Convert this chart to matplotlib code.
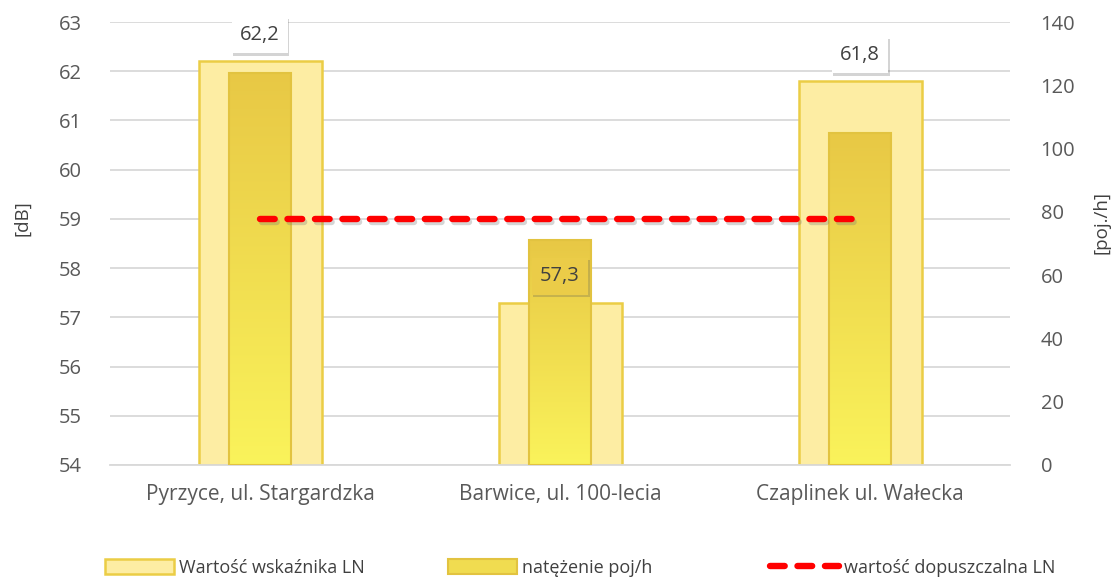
import matplotlib
matplotlib.use('Agg')
import matplotlib.pyplot as plt
import matplotlib.patheffects as pe
from matplotlib.patches import Patch
from matplotlib.lines import Line2D
from matplotlib.colors import LinearSegmentedColormap
import numpy as np

# data
locations = ['Pyrzyce, ul. Stargardzka', 'Barwice, ul. 100-lecia', 'Czaplinek ul. Wałecka']
ln_values = [62.2, 57.3, 61.8]          # [dB], left axis
traffic = [124, 71, 105]                # [poj./h], right axis
ln_limit = [59, 59, 59]                 # wartość dopuszczalna
ln_labels = ['62,2', '57,3', '61,8']
legend_labels = ['Wartość wskaźnika LN', 'natężenie poj/h', 'wartość dopuszczalna LN']

plt.rcParams['font.family'] = ['Open Sans', 'DejaVu Sans']

grey = '#595959'
outer_fc = '#fdeda3'
outer_ec = '#ebcd45'
grad_top = '#e8c845'
grad_bot = '#faf35b'

fig = plt.figure(figsize=(11.2, 5.78), dpi=100)
ax1 = fig.add_axes([110 / 1120, 113 / 578, 900 / 1120, 443 / 578])
ax2 = ax1.twinx()

x = np.arange(len(locations))

# outer bars (LN indicator)
ax1.bar(x, [v - 54 for v in ln_values], bottom=54, width=0.41,
        color=outer_fc, edgecolor=outer_ec, linewidth=1.8, zorder=2)

ax1.set_ylim(54, 63)
ax1.set_xlim(-0.5, 2.5)
ax1.set_yticks(range(54, 64))
ax1.grid(axis='y', color='#d9d9d9', linewidth=1.3, zorder=0)
ax1.set_axisbelow(True)

# inner bars (traffic) with vertical gradient
inner = ax2.bar(x, traffic, width=0.207, color='none',
                edgecolor='#e2c340', linewidth=1.5, zorder=3)
cmap = LinearSegmentedColormap.from_list('g', [grad_bot, grad_top])
grad = np.linspace(0, 1, 256).reshape(-1, 1)
for rect in inner:
    x0, w, h = rect.get_x(), rect.get_width(), rect.get_height()
    im = ax2.imshow(grad, cmap=cmap, origin='lower', aspect='auto',
                    extent=(x0, x0 + w, 0, h), zorder=2.5)
    im.set_clip_path(rect)
ax2.set_ylim(0, 140)
ax2.set_yticks(range(0, 141, 20))
ax2.set_xlim(-0.5, 2.5)

# limit line, drawn on top using the dB scale
ax2.plot(x, ln_limit, transform=ax1.transData, color='#ff0000', linewidth=4.6,
         dashes=(2.3, 2.0), dash_capstyle='round', zorder=5,
         path_effects=[pe.SimpleLineShadow(offset=(1.2, -2.2), shadow_color='#777777', alpha=0.3),
                       pe.Normal()])

# data labels with a shadowed box
for xi, v, lab in zip(x, ln_values, ln_labels):
    fc = '#ebcc48' if v < 59 else 'white'
    ann = ax2.annotate(lab, (xi, v), xycoords=ax1.transData, xytext=(0, 19),
                       textcoords='offset points', ha='center', va='center',
                       fontsize=14.5, color='#404040', zorder=7,
                       bbox=dict(boxstyle='square,pad=0.42', fc=fc, ec='none'))
    ann.get_bbox_patch().set_path_effects(
        [pe.SimplePatchShadow(offset=(0.8, -1.8), shadow_rgbFace='#555555', alpha=0.25),
         pe.Normal()])

# axes styling
for ax in (ax1, ax2):
    for s in ax.spines.values():
        s.set_visible(False)
    ax.tick_params(length=0, labelsize=14.5, labelcolor=grey)
ax1.spines['bottom'].set_visible(True)
ax1.spines['bottom'].set_color('#d9d9d9')
ax1.spines['bottom'].set_linewidth(1.3)
ax1.set_xticks(x)
ax1.set_xticklabels(locations, fontsize=15)
ax1.tick_params(axis='x', pad=14)
ax1.tick_params(axis='y', pad=20)
ax2.tick_params(axis='y', pad=22)

fig.text(22 / 1120, 1 - 218 / 578, '[dB]', rotation=90, ha='center', va='center',
         fontsize=13.5, color='#404040')
fig.text(1102 / 1120, 1 - 222 / 578, '[poj./h]', rotation=90, ha='center', va='center',
         fontsize=13.5, color='#404040')

# legend: three single-entry legends placed like the original
handles = [Patch(fc=outer_fc, ec=outer_ec, lw=1.8),
           Patch(fc='#f0dc50', ec='#e2c340', lw=1.5),
           Line2D([0], [0], color='#ff0000', lw=4.6, dashes=(2.3, 2.0), dash_capstyle='round')]
starts = [105, 448, 770]
for h, lab, xs in zip(handles, legend_labels, starts):
    fig.legend([h], [lab], loc='center left', bbox_to_anchor=(xs / 1120, 10 / 578),
               frameon=False, fontsize=13, handlelength=3.8, handleheight=0.9,
               handletextpad=0.3, borderpad=0, borderaxespad=0, labelcolor='#404040')

fig.savefig('out.png', dpi=100)
